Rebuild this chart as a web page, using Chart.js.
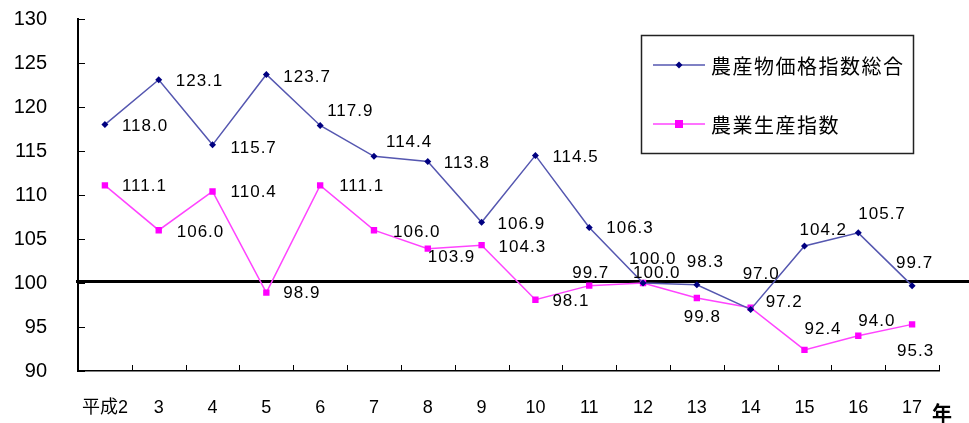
<!DOCTYPE html>
<html lang="ja">
<head>
<meta charset="utf-8">
<script src="https://cdn.jsdelivr.net/npm/chart.js@4/dist/chart.umd.min.js"></script>
<style>
  html, body { margin: 0; padding: 0; background: #fff; }
  #wrap { width: 969px; height: 423px; }
</style>
</head>
<body>
<div id="wrap"><canvas id="c" width="969" height="423"></canvas></div>
<script>
// 年次（平成）と2系列の指数
const years = ["平成2", "3", "4", "5", "6", "7", "8", "9", "10", "11", "12", "13", "14", "15", "16", "17"];
const priceIndex = [118.0, 123.1, 115.7, 123.7, 117.9, 114.4, 113.8, 106.9, 114.5, 106.3, 100.0, 99.8, 97.0, 104.2, 105.7, 99.7];
const productionIndex = [111.1, 106.0, 110.4, 98.9, 111.1, 106.0, 103.9, 104.3, 98.1, 99.7, 100.0, 98.3, 97.2, 92.4, 94.0, 95.3];
const yTicks = [90, 95, 100, 105, 110, 115, 120, 125, 130];
const seriesNames = ["農産物価格指数総合", "農業生産指数"];

// 値ラベルの置き場所（点からのずれ: 左端x, 中心y）
const priceLabelShift = [
  [17, 1], [17, 1], [18, 2], [17, 2], [7, -15], [12, -15], [16, 1], [16, 1],
  [17, 1], [17, 0], [-14, -25], [-13, 32], [-8, -36], [-5, -17], [0, -20], [-16, -23]
];
const productionLabelShift = [
  [17, 0], [18, 1], [18, 0], [17, 0], [19, 0], [19, 1], [0, 8], [17, 1],
  [17, 1], [-17, -13], [-10, -11], [-10, -37], [15, -6], [0, -22], [0, -15], [-15, 26]
];

const LABEL_FONT = '17px "Liberation Sans", Arial, sans-serif';
const CJK_FONT = '"Noto Sans CJK JP", "Liberation Sans", sans-serif';

// 基準線(100)・内向き目盛・値ラベル・凡例・「年」
const decorations = {
  id: "decorations",
  beforeDatasetsDraw(chart) {
    const { ctx, chartArea, scales } = chart;
    const y = scales.y, x = scales.x;
    ctx.save();
    ctx.strokeStyle = "#000";
    ctx.lineWidth = 1;
    // y軸の内向き目盛
    yTicks.forEach((v) => {
      const py = Math.round(y.getPixelForValue(v)) + 0.5;
      ctx.beginPath();
      ctx.moveTo(chartArea.left, py);
      ctx.lineTo(chartArea.left + 7, py);
      ctx.stroke();
    });
    // x軸の区切り目盛
    const half = (x.getPixelForValue(1) - x.getPixelForValue(0)) / 2;
    years.forEach((_, i) => {
      const px = Math.round(x.getPixelForValue(i) + half) + 0.5;
      ctx.beginPath();
      ctx.moveTo(px, chartArea.bottom);
      ctx.lineTo(px, chartArea.bottom - 6);
      ctx.stroke();
    });
    // 100の基準線
    const p100 = y.getPixelForValue(100) - 1.5;
    ctx.lineWidth = 3;
    ctx.beginPath();
    ctx.moveTo(chartArea.left - 2, p100);
    ctx.lineTo(chart.width, p100);
    ctx.stroke();
    ctx.restore();
  },
  afterDatasetsDraw(chart) {
    const { ctx, chartArea } = chart;
    ctx.save();
    ctx.fillStyle = "#000";
    ctx.font = LABEL_FONT;
    ctx.letterSpacing = "1px";
    ctx.textAlign = "left";
    ctx.textBaseline = "middle";
    const shifts = [priceLabelShift, productionLabelShift];
    chart.data.datasets.forEach((ds, di) => {
      chart.getDatasetMeta(di).data.forEach((pt, i) => {
        const [dx, dy] = shifts[di][i];
        ctx.fillText(ds.data[i].toFixed(1), pt.x + dx, pt.y + dy + 1);
      });
    });

    // 凡例
    const bx = 641, by = 35, bw = 272, bh = 118;
    ctx.letterSpacing = "1.5px";
    ctx.strokeStyle = "#222";
    ctx.lineWidth = 1.5;
    ctx.strokeRect(bx + 0.5, by + 0.5, bw, bh);
    chart.data.datasets.forEach((ds, di) => {
      const ly = by + 30 + di * 59;
      ctx.strokeStyle = ds.borderColor;
      ctx.lineWidth = 1.5;
      ctx.beginPath();
      ctx.moveTo(bx + 12, ly);
      ctx.lineTo(bx + 64, ly);
      ctx.stroke();
      ctx.fillStyle = ds.pointBackgroundColor;
      if (di === 0) {
        ctx.beginPath();
        ctx.moveTo(bx + 38, ly - 3.5);
        ctx.lineTo(bx + 41.5, ly);
        ctx.lineTo(bx + 38, ly + 3.5);
        ctx.lineTo(bx + 34.5, ly);
        ctx.closePath();
        ctx.fill();
      } else {
        ctx.fillRect(bx + 34, ly - 4, 8, 8);
      }
      ctx.fillStyle = "#000";
      ctx.font = "20px " + CJK_FONT;
      ctx.fillText(ds.label, bx + 70, ly + 1);
    });

    // 「年」
    ctx.letterSpacing = "0px";
    ctx.font = "bold 20px " + CJK_FONT;
    ctx.textAlign = "left";
    ctx.fillText("年", chartArea.right - 7, 413);
    ctx.restore();
  }
};

new Chart(document.getElementById("c"), {
  type: "line",
  data: {
    labels: years,
    datasets: [
      {
        label: seriesNames[0],
        data: priceIndex,
        borderColor: "#5557b0",
        borderWidth: 1.5,
        pointStyle: "rectRot",
        pointRadius: 3.5,
        pointBackgroundColor: "#000080",
        pointBorderColor: "#000080",
        pointBorderWidth: 0,
        tension: 0,
      },
      {
        label: seriesNames[1],
        data: productionIndex,
        borderColor: "#ff44ff",
        borderWidth: 1.5,
        pointStyle: "rect",
        pointRadius: 4.5,
        pointBackgroundColor: "#ff00ff",
        pointBorderColor: "#ff00ff",
        pointBorderWidth: 0,
        tension: 0,
      },
    ],
  },
  options: {
    responsive: false,
    animation: false,
    events: [],
    layout: { padding: { top: 19, right: 30, left: 0, bottom: 0 } },
    plugins: { legend: { display: false }, tooltip: { enabled: false } },
    scales: {
      x: {
        offset: true,
        // 目盛線は透明にして、ラベルとの間隔だけに使う
        grid: { display: true, drawOnChartArea: false, drawTicks: true, tickLength: 26, tickColor: "rgba(0,0,0,0)" },
        border: { display: true, color: "#000", width: 1.5 },
        ticks: {
          color: "#000",
          padding: 0,
          maxRotation: 0,
          autoSkip: false,
          font: { family: '"Liberation Sans", "Noto Sans CJK JP", sans-serif', size: 18 },
        },
        afterFit(scale) { scale.height = 52; },
      },
      y: {
        min: 90,
        max: 130,
        grid: { display: true, drawOnChartArea: false, drawTicks: true, tickLength: 31, tickColor: "rgba(0,0,0,0)" },
        border: { display: true, color: "#000", width: 2 },
        ticks: {
          stepSize: 5,
          color: "#000",
          padding: 0,
          font: { family: '"Liberation Sans", Arial, sans-serif', size: 20 },
        },
        afterFit(scale) { scale.width = 78; },
      },
    },
  },
  plugins: [decorations],
});
</script>
</body>
</html>
